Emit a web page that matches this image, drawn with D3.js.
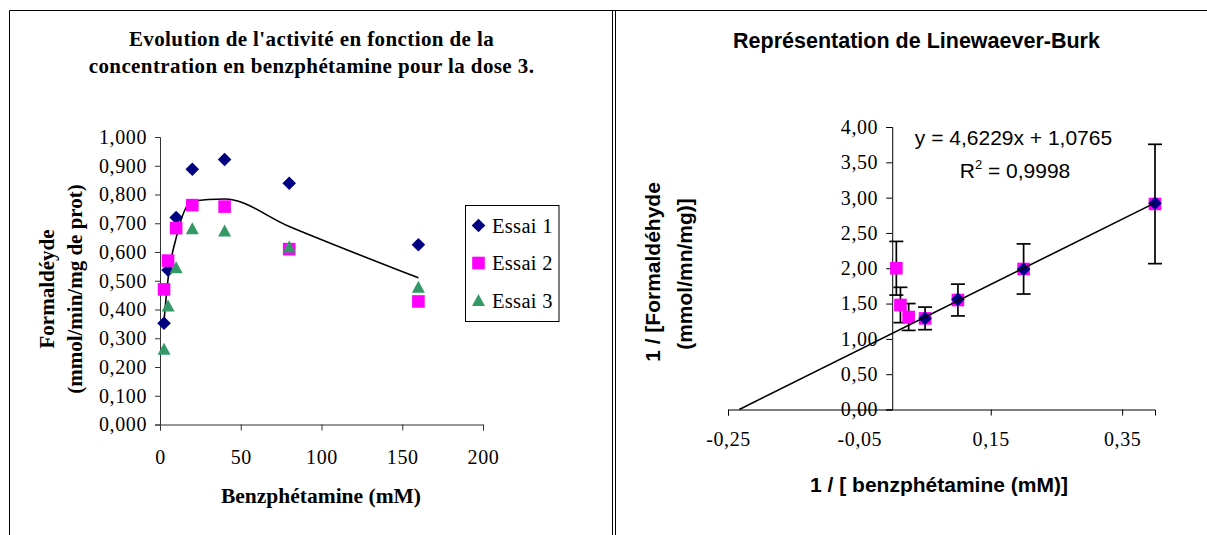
<!DOCTYPE html>
<html><head><meta charset="utf-8">
<script src="https://cdn.jsdelivr.net/npm/d3@7"></script>
<style>body{margin:0;background:#fff;overflow:hidden;} svg{display:block;}</style>
</head><body>
<script>
// ---------- Left chart data ----------
const concentrations = [2.5, 5, 10, 20, 40, 80, 160];
const essai1 = [0.352, 0.537, 0.720, 0.888, 0.922, 0.839, 0.625];
const essai2 = [0.470, 0.570, 0.683, 0.763, 0.758, 0.610, 0.428];
const essai3 = [0.262, 0.412, 0.545, 0.681, 0.673, 0.617, 0.477];
const seriesNames = ["Essai 1", "Essai 2", "Essai 3"];
const leftXTicks = [0, 50, 100, 150, 200];
const leftYTicks = [0, 0.1, 0.2, 0.3, 0.4, 0.5, 0.6, 0.7, 0.8, 0.9, 1.0];

// ---------- Right chart data (Lineweaver-Burk) ----------
const invConc = [0.00625, 0.0125, 0.025, 0.05, 0.1, 0.2, 0.4];
const invMoyenne = [2.00, 1.48, 1.31, 1.29, 1.55, 1.99, 2.91];
const invErreur = [0.38, 0.25, 0.19, 0.16, 0.225, 0.355, 0.845];
const invConcLin = [0.05, 0.1, 0.2, 0.4];
const invLin = [1.29, 1.56, 1.985, 2.92];
const pente = 4.6229, ordonnee = 1.0765, r2 = 0.9998;
const rightXTicks = [-0.25, -0.05, 0.15, 0.35];
const rightYTicks = [0, 0.5, 1, 1.5, 2, 2.5, 3, 3.5, 4];

const W = 1207, H = 535;
const serif = "'Liberation Serif','Times New Roman',serif";
const sans = "'Liberation Sans',Arial,sans-serif";
const comma = f => v => f(v).replace(".", ",").replace("−", "-");

const svg = d3.select("body").append("svg").attr("width", W).attr("height", H);
svg.append("rect").attr("width", W).attr("height", H).attr("fill", "#fff");

// frame lines
const frame = svg.append("g").attr("stroke", "#000").attr("stroke-width", 1).attr("fill", "none");
frame.append("line").attr("x1", 9.5).attr("x2", W).attr("y1", 10.5).attr("y2", 10.5);
frame.append("line").attr("x1", 9.5).attr("x2", 9.5).attr("y1", 10.5).attr("y2", H);
frame.append("line").attr("x1", 612.5).attr("x2", 612.5).attr("y1", 10.5).attr("y2", H);
frame.append("line").attr("x1", 615.5).attr("x2", 615.5).attr("y1", 10.5).attr("y2", H);

// marker paths
const diamond = h => `M0,${-h}L${h},0L0,${h}L${-h},0Z`;
const square = h => `M${-h},${-h}H${h}V${h}H${-h}Z`;
const triangle = h => `M0,${-h}L${h},${h - 1}L${-h},${h - 1}Z`;

// ================= LEFT CHART =================
const xL = d3.scaleLinear().domain([0, 200]).range([160, 483]);
const yL = d3.scaleLinear().domain([0, 1]).range([424.5, 137]);
const gL = svg.append("g");

gL.append("text").attr("x", 311.5).attr("y", 45.5).attr("text-anchor", "middle")
  .attr("font-family", serif).attr("font-weight", "bold").attr("font-size", 21).attr("letter-spacing", 0.4)
  .text("Evolution de l'activité en fonction de la");
gL.append("text").attr("x", 311.5).attr("y", 72.7).attr("text-anchor", "middle")
  .attr("font-family", serif).attr("font-weight", "bold").attr("font-size", 21).attr("letter-spacing", 0.4)
  .text("concentration en benzphétamine pour la dose 3.");

const axL_y = gL.append("g").attr("transform", `translate(${xL(0)},0)`)
  .call(d3.axisLeft(yL).tickValues(leftYTicks).tickSize(5).tickPadding(8).tickFormat(comma(d3.format(".3f"))));
const axL_x = gL.append("g").attr("transform", `translate(0,${yL(0)})`)
  .call(d3.axisBottom(xL).tickValues(leftXTicks).tickSize(6).tickPadding(19).tickFormat(d3.format("d")));
[axL_y, axL_x].forEach(a => {
  a.select(".domain").attr("stroke", "#333");
  a.selectAll(".tick line").attr("stroke", "#333");
  a.selectAll("text").attr("font-family", serif).attr("font-size", 20).attr("fill", "#000").attr("letter-spacing", 0.6);
});

gL.append("text").attr("transform", "translate(54,289) rotate(-90)").attr("text-anchor", "middle")
  .attr("font-family", serif).attr("font-weight", "bold").attr("font-size", 21).text("Formaldéyde");
gL.append("text").attr("transform", "translate(81.5,289) rotate(-90)").attr("text-anchor", "middle")
  .attr("font-family", serif).attr("font-weight", "bold").attr("font-size", 21).text("(mmol/min/mg de prot)");
gL.append("text").attr("x", 321).attr("y", 503).attr("text-anchor", "middle")
  .attr("font-family", serif).attr("font-weight", "bold").attr("font-size", 21.5).text("Benzphétamine (mM)");

// mean line (average of the three trials)
const moyenne = concentrations.map((c, i) => [c, (essai1[i] + essai2[i] + essai3[i]) / 3]);
gL.append("path").datum(moyenne)
  .attr("d", d3.line().x(d => xL(d[0])).y(d => yL(d[1])).curve(d3.curveMonotoneX))
  .attr("fill", "none").attr("stroke", "#000").attr("stroke-width", 1.6);

const seriesL = [
  { name: seriesNames[0], vals: essai1, color: "#000080", shape: diamond(6.8) },
  { name: seriesNames[1], vals: essai2, color: "#FF00FF", shape: square(6.3) },
  { name: seriesNames[2], vals: essai3, color: "#339966", shape: triangle(6.5) }
];
seriesL.forEach(s => {
  gL.append("g").selectAll("path").data(concentrations).join("path")
    .attr("transform", (c, i) => `translate(${xL(c)},${yL(s.vals[i])})`)
    .attr("d", s.shape).attr("fill", s.color);
});

// legend
const leg = gL.append("g");
leg.append("rect").attr("x", 465.5).attr("y", 205.5).attr("width", 93.5).attr("height", 116)
  .attr("fill", "#fff").attr("stroke", "#000").attr("stroke-width", 1);
const legY = [225.5, 263, 300.5];
seriesL.forEach((s, i) => {
  leg.append("path").attr("transform", `translate(478.5,${legY[i]})`).attr("d", s.shape).attr("fill", s.color);
  leg.append("text").attr("x", 492).attr("y", legY[i]).attr("dy", "0.35em")
    .attr("font-family", serif).attr("font-size", 20.5).attr("letter-spacing", 0.3).text(s.name);
});

// ================= RIGHT CHART =================
const xR = d3.scaleLinear().domain([-0.25, 0.40]).range([728, 1155]);
const yR = d3.scaleLinear().domain([0, 4]).range([409.5, 127]);
const gR = svg.append("g");

gR.append("text").attr("x", 916.5).attr("y", 47.8).attr("text-anchor", "middle")
  .attr("font-family", sans).attr("font-weight", "bold").attr("font-size", 21.5)
  .text("Représentation de Linewaever-Burk");

const axR_x = gR.append("g").attr("transform", `translate(0,${yR(0)})`)
  .call(d3.axisBottom(xR).tickValues(rightXTicks).tickSize(6).tickPadding(16.5).tickFormat(comma(d3.format(".2f"))));
const axR_y = gR.append("g").attr("transform", `translate(${xR(0)},0)`)
  .call(d3.axisLeft(yR).tickValues(rightYTicks).tickSize(6).tickPadding(8).tickFormat(comma(d3.format(".2f"))));
[axR_x, axR_y].forEach(a => {
  a.select(".domain").attr("stroke", "#000");
  a.selectAll(".tick line").attr("stroke", "#000");
  a.selectAll("text").attr("font-family", serif).attr("font-size", 20).attr("fill", "#000").attr("letter-spacing", 0.6);
});

gR.append("text").attr("transform", "translate(659.5,272) rotate(-90)").attr("text-anchor", "middle")
  .attr("font-family", sans).attr("font-weight", "bold").attr("font-size", 21).text("1 / [Formaldéhyde");
gR.append("text").attr("transform", "translate(691.5,274) rotate(-90)").attr("text-anchor", "middle")
  .attr("font-family", sans).attr("font-weight", "bold").attr("font-size", 21).text("(mmol/mn/mg)]");
gR.append("text").attr("x", 939).attr("y", 492).attr("text-anchor", "middle")
  .attr("font-family", sans).attr("font-weight", "bold").attr("font-size", 21).text("1 / [ benzphétamine (mM)]");

// error bars
const eb = gR.append("g").attr("stroke", "#000").attr("stroke-width", 1.7).attr("fill", "none");
invConc.forEach((x, i) => {
  const cx = xR(x), top = yR(invMoyenne[i] + invErreur[i]), bot = yR(invMoyenne[i] - invErreur[i]);
  eb.append("line").attr("x1", cx).attr("x2", cx).attr("y1", top).attr("y2", bot);
  eb.append("line").attr("x1", cx - 7).attr("x2", cx + 7).attr("y1", top).attr("y2", top);
  eb.append("line").attr("x1", cx - 7).attr("x2", cx + 7).attr("y1", bot).attr("y2", bot);
});
// squares
gR.append("g").selectAll("path").data(invConc).join("path")
  .attr("transform", (x, i) => `translate(${xR(x)},${yR(invMoyenne[i])})`)
  .attr("d", square(6.3)).attr("fill", "#FF00FF");
// diamonds
gR.append("g").selectAll("path").data(invConcLin).join("path")
  .attr("transform", (x, i) => `translate(${xR(x)},${yR(invLin[i])})`)
  .attr("d", diamond(6.8)).attr("fill", "#000080");
// trend line
const x0 = -ordonnee / pente, x1 = 0.4;
gR.append("line").attr("x1", xR(x0)).attr("y1", yR(pente * x0 + ordonnee))
  .attr("x2", xR(x1)).attr("y2", yR(pente * x1 + ordonnee))
  .attr("stroke", "#000").attr("stroke-width", 1.6);

// equation
const fmt4 = v => d3.format(".4f")(v).replace(".", ",");
gR.append("text").attr("x", 1013.5).attr("y", 145).attr("text-anchor", "middle")
  .attr("font-family", sans).attr("font-size", 21)
  .text(`y = ${fmt4(pente)}x + ${fmt4(ordonnee)}`);
const r2t = gR.append("text").attr("x", 1015).attr("y", 178).attr("text-anchor", "middle")
  .attr("font-family", sans).attr("font-size", 21);
r2t.append("tspan").text("R");
r2t.append("tspan").attr("dy", -9).attr("font-size", 13).text("2");
r2t.append("tspan").attr("dy", 9).text(" = " + fmt4(r2));
</script>
</body></html>
